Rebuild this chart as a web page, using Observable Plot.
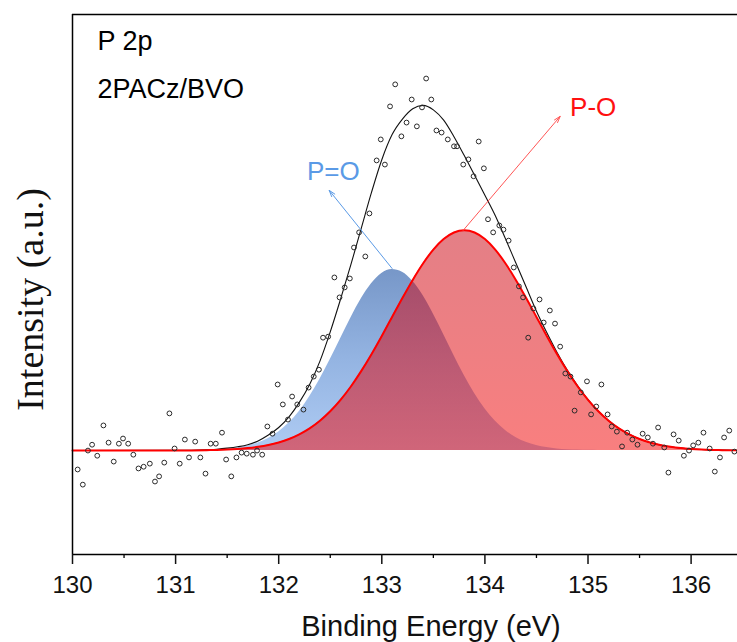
<!DOCTYPE html>
<html>
<head>
<meta charset="utf-8">
<script src="https://cdn.jsdelivr.net/npm/d3@7"></script>
<script src="https://cdn.jsdelivr.net/npm/@observablehq/plot@0.6"></script>
<style>
  html, body { margin: 0; padding: 0; background: #fff; }
</style>
</head>
<body>
<div id="chart"></div>
<script>
// ---------- data ----------
const xDomain = [130, 136.45];
const yDomain = [-0.302, 1.267];

const majorTicks = [130, 131, 132, 133, 134, 135, 136];
const minorTicks = [130.5, 131.5, 132.5, 133.5, 134.5, 135.5];

// fitted curves (binding energy grid, eV)
const fitEnergy = [130.0,131.0,131.3,131.4,131.5,131.6,131.7,131.8,131.9,132.0,132.1,132.2,132.3,132.4,132.5,132.6,132.7,132.8,132.9,133.0,133.1,133.2,133.3,133.4,133.5,133.6,133.7,133.8,133.9,134.0,134.1,134.2,134.3,134.4,134.5,134.6,134.7,134.8,134.9,135.0,135.1,135.2,135.3,135.4,135.5,135.6,135.7,135.8,135.9,136.0,136.1,136.2,136.3,136.45];
const peakPdoubleO = [0,0,0.0012,0.0024,0.0044,0.0078,0.0133,0.0220,0.0351,0.0539,0.0798,0.1138,0.1564,0.2071,0.2644,0.3252,0.3854,0.4404,0.4848,0.5144,0.5259,0.5182,0.4920,0.4503,0.3970,0.3374,0.2764,0.2181,0.1659,0.1216,0.0859,0.0585,0.0383,0.0242,0.0148,0.0087,0.0049,0.0027,0.0014,0.0007,0.0003,0,0,0,0,0,0,0,0,0,0,0,0,0];
const peakPsingleO = [0,0.0002,0.0011,0.0018,0.0029,0.0046,0.0071,0.0108,0.0161,0.0235,0.0335,0.0470,0.0644,0.0866,0.1141,0.1473,0.1862,0.2307,0.2800,0.3331,0.3882,0.4433,0.4959,0.5436,0.5839,0.6144,0.6335,0.6400,0.6335,0.6144,0.5839,0.5436,0.4959,0.4433,0.3882,0.3331,0.2800,0.2307,0.1862,0.1473,0.1141,0.0866,0.0644,0.0470,0.0335,0.0235,0.0161,0.0108,0.0071,0.0046,0.0029,0.0018,0.0011,0.0005];
const envelope = [0,0.0004,0.002,0.004,0.007,0.011,0.017,0.028,0.045,0.067,0.098,0.140,0.192,0.260,0.345,0.440,0.540,0.645,0.750,0.845,0.918,0.963,0.993,1.003,0.990,0.960,0.912,0.857,0.800,0.742,0.683,0.615,0.545,0.475,0.405,0.343,0.285,0.233,0.188,0.148,0.1144,0.0867,0.0645,0.0471,0.0336,0.0236,0.0162,0.0109,0.0072,0.0047,0.0030,0.0019,0.0012,0.0006];

// measured points
const measEnergy = [130.05,130.10,130.15,130.19,130.24,130.30,130.35,130.40,130.45,130.49,130.54,130.59,130.64,130.69,130.75,130.80,130.84,130.89,130.94,130.99,131.04,131.09,131.13,131.19,131.24,131.29,131.34,131.39,131.45,131.49,131.54,131.59,131.64,131.69,131.75,131.79,131.84,131.89,131.94,131.99,132.04,132.09,132.13,132.18,132.24,132.29,132.34,132.39,132.43,132.48,132.54,132.59,132.64,132.69,132.73,132.78,132.84,132.88,132.95,132.99,133.03,133.08,133.13,133.19,133.24,133.29,133.34,133.39,133.43,133.48,133.53,133.58,133.64,133.70,133.73,133.79,133.84,133.89,133.94,133.99,134.03,134.08,134.14,134.18,134.23,134.28,134.33,134.37,134.42,134.47,134.53,134.57,134.63,134.68,134.73,134.78,134.83,134.87,134.93,134.99,135.03,135.08,135.13,135.19,135.23,135.28,135.33,135.38,135.43,135.48,135.53,135.58,135.63,135.68,135.74,135.78,135.83,135.88,135.93,135.98,136.02,136.07,136.12,136.18,136.23,136.28,136.32,136.37,136.42];
const measIntensity = [-0.055,-0.099,0.0,0.017,-0.015,0.073,0.023,-0.032,0.020,0.035,0.020,-0.012,-0.052,-0.047,-0.038,-0.090,-0.075,-0.035,0.108,0.006,-0.038,0.032,-0.020,0.026,-0.020,-0.067,0.020,0.020,0.052,-0.026,-0.075,-0.020,-0.006,-0.009,-0.012,0.0,-0.012,0.070,0.049,0.192,0.134,0.090,0.157,0.134,0.119,0.183,0.215,0.235,0.328,0.331,0.503,0.445,0.474,0.500,0.590,0.634,0.564,0.689,0.843,0.904,0.831,1.000,1.064,0.913,0.953,1.020,0.942,0.997,1.081,1.020,0.930,0.924,0.904,0.884,0.884,0.831,0.846,0.797,0.898,0.820,0.672,0.634,0.654,0.642,0.610,0.532,0.477,0.445,0.328,0.413,0.439,0.372,0.407,0.369,0.302,0.224,0.215,0.116,0.169,0.201,0.105,0.128,0.192,0.105,0.070,0.055,0.012,0.052,0.032,0.017,0.049,0.038,0.020,0.067,0.009,-0.064,0.047,0.029,-0.015,0.0,0.015,0.023,0.052,0.006,-0.061,-0.020,0.038,0.058,-0.003];

// annotations
const annLabels = ["P=O", "P-O"];
const annColors = ["#5a9ae6", "#ff1010"];
const arrowColors = ["#5a9ae6", "#ff5555"];
const annX = [132.53, 135.05];
const annY = [0.811, 0.997];
const arrowX1 = [133.10, 133.79];
const arrowY1 = [0.529, 0.640];
const arrowX2 = [132.49, 134.73];
const arrowY2 = [0.756, 0.971];

// ---------- tables built from the arrays ----------
const fitRows = fitEnergy.map((e, i) => ({e, blue: peakPdoubleO[i], red: peakPsingleO[i], env: envelope[i]}));
const points = measEnergy.map((e, i) => ({e, v: measIntensity[i]}));
const anns = annLabels.map((t, i) => ({t, color: annColors[i], acolor: arrowColors[i], x: annX[i], y: annY[i], x1: arrowX1[i], y1: arrowY1[i], x2: arrowX2[i], y2: arrowY2[i]}));

const sans = "'Liberation Sans', Arial, Helvetica, sans-serif";
const serif = "'Liberation Serif', 'Times New Roman', serif";

const plot = Plot.plot({
  width: 737,
  height: 642,
  marginLeft: 72,
  marginRight: 0,
  marginTop: 14,
  marginBottom: 88,
  x: {domain: xDomain},
  y: {domain: yDomain, axis: null},
  color: {type: "identity"},
  style: {fontFamily: sans, background: "#fff", overflow: "visible", color: "#000"},
  marks: [
    Plot.areaY(fitRows, {x: "e", y: "blue", fill: "url(#gradBlue)", curve: "monotone-x"}),
    Plot.areaY(fitRows, {x: "e", y: "red", fill: "url(#gradRed)", fillOpacity: 0.5, curve: "monotone-x"}),
    Plot.lineY(fitRows, {x: "e", y: "env", stroke: "#111", strokeWidth: 1.1, curve: "monotone-x"}),
    Plot.lineY(fitRows, {x: "e", y: "red", stroke: "#ff0000", strokeWidth: 2, curve: "monotone-x"}),
    Plot.dot(points, {x: "e", y: "v", r: 2.4, stroke: "#2a2a2a", strokeWidth: 1, fill: "none"}),
    Plot.arrow(anns, {x1: "x1", y1: "y1", x2: "x2", y2: "y2", stroke: "acolor", strokeWidth: 1, headLength: 10, headAngle: 35}),
    Plot.text(anns, {x: "x", y: "y", text: "t", fill: "color", fontSize: 26, lineAnchor: "middle"}),
    // frame (left, top, bottom)
    Plot.ruleX([xDomain[0]], {stroke: "#000", strokeWidth: 1.5}),
    Plot.ruleY([yDomain[1]], {stroke: "#000", strokeWidth: 1.5}),
    Plot.ruleY([yDomain[0]], {stroke: "#000", strokeWidth: 1.5}),
    Plot.axisX({ticks: majorTicks, tickSize: 10, tickPadding: 11, fontSize: 24, strokeWidth: 1.5, tickFormat: d => String(d), label: null, color: "#111"}),
    Plot.axisX({ticks: minorTicks, tickSize: 4, strokeWidth: 1.3, tickFormat: () => "", label: null}),
    Plot.text(["Binding Energy (eV)"], {text: d => d, frameAnchor: "bottom", dx: 26, dy: 61, lineAnchor: "top", textAnchor: "middle", fontSize: 29, fill: "#111"}),
    Plot.text(["Intensity (a.u.)"], {text: d => d, frameAnchor: "left", rotate: -90, dx: -42, dy: 15, lineAnchor: "middle", textAnchor: "middle", fontSize: 38, fontFamily: serif, fill: "#111"}),
    Plot.text(["P 2p"], {text: d => d, frameAnchor: "top-left", dx: 25, dy: 16, lineAnchor: "top", textAnchor: "start", fontSize: 27, fill: "#000"}),
    Plot.text(["2PACz/BVO"], {text: d => d, frameAnchor: "top-left", dx: 25, dy: 64, lineAnchor: "top", textAnchor: "start", fontSize: 27, fill: "#000"})
  ]
});

// gradient definitions for the filled peaks
const ns = "http://www.w3.org/2000/svg";
const defs = document.createElementNS(ns, "defs");
function grad(id, stops) {
  const g = document.createElementNS(ns, "linearGradient");
  g.setAttribute("id", id);
  g.setAttribute("x1", "0"); g.setAttribute("y1", "0");
  g.setAttribute("x2", "0"); g.setAttribute("y2", "1");
  for (const [o, c] of stops) {
    const s = document.createElementNS(ns, "stop");
    s.setAttribute("offset", o);
    s.setAttribute("stop-color", c);
    g.appendChild(s);
  }
  defs.appendChild(g);
}
grad("gradBlue", [["0", "#7797c8"], ["0.5", "#94b4e2"], ["1", "#aecbf3"]]);
grad("gradRed", [["0", "#c8000e"], ["1", "#f20000"]]);
plot.insertBefore(defs, plot.firstChild);

document.getElementById("chart").appendChild(plot);
</script>
</body>
</html>
